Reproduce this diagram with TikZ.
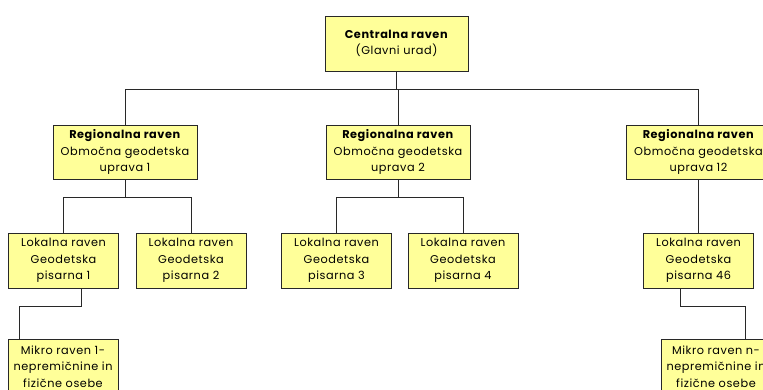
\documentclass[tikz,border=0pt]{standalone}
\usepackage{fontspec}
\setmainfont{Poppins}[LetterSpace=5]
\definecolor{boxfill}{RGB}{255,255,153}
\definecolor{linegray}{RGB}{40,40,40}
\begin{document}
\begin{tikzpicture}[x=1pt, y=-1pt,
    box/.style={draw=linegray, fill=boxfill, line width=0.8pt, inner sep=0pt,
      align=center, font=\fontsize{11.3}{16.3}\selectfont},
    regbox/.style={box, minimum width=144, minimum height=54},
    lokbox/.style={box, minimum width=110, minimum height=55},
    link/.style={draw=linegray, line width=0.8pt}]
    \useasboundingbox (0,0) rectangle (763,390);

    % Define node positions
    \node[regbox, minimum width=143, minimum height=55] (cen) at (396.5, 43.5)
    {\textbf{Centralna raven}\\(Glavni urad)};
    \node[regbox] (reg1) at (125, 152) {\textbf{Regionalna raven}\\Območna geodetska\\uprava 1};
    \node[regbox] (reg2) at (398, 152) {\textbf{Regionalna raven}\\Območna geodetska\\uprava 2};
    \node[regbox] (reg12) at (698.5, 152) {\textbf{Regionalna raven}\\Območna geodetska\\uprava 12};
    \node[lokbox] (lok1) at (63.5, 260.5) {Lokalna raven\\Geodetska\\pisarna 1};
    \node[lokbox] (lok2) at (191, 260.5) {Lokalna raven\\Geodetska\\pisarna 2};
    \node[lokbox] (lok3) at (336.5, 260.5) {Lokalna raven\\Geodetska\\pisarna 3};
    \node[lokbox] (lok4) at (463, 260.5) {Lokalna raven\\Geodetska\\pisarna 4};
    \node[lokbox] (lok46) at (698.5, 260.5) {Lokalna raven\\Geodetska\\pisarna 46};
    \node[lokbox] (mik1) at (63, 366.5) {Mikro raven 1-\\nepremičnine in\\fizične osebe};
    \node[lokbox] (mikn) at (716, 366.5) {Mikro raven n-\\nepremičnine in\\fizične osebe};

    % Draw connectors
    \draw[link] (cen.south) -- ++(0,18) -| (reg1.north);
    \draw[link] (cen.south) -- ++(0,18) -| (reg2.north);
    \draw[link] (cen.south) -- ++(0,18) -| (reg12.north);
    \draw[link] (reg1.south) -- ++(0,18) -| (lok1.north);
    \draw[link] (reg1.south) -- ++(0,18) -| (lok2.north);
    \draw[link] (reg2.south) -- ++(0,18) -| (lok3.north);
    \draw[link] (reg2.south) -- ++(0,18) -| (lok4.north);
    \draw[link] (reg12.south) -- (lok46.north);
    \draw[link] ([xshift=18]lok1.south) -- ++(0,18) -| ([xshift=-44]mik1.north);
    \draw[link] ([xshift=-18.5]lok46.south) -- ++(0,18) -| ([xshift=29]mikn.north);
\end{tikzpicture}
\end{document}
